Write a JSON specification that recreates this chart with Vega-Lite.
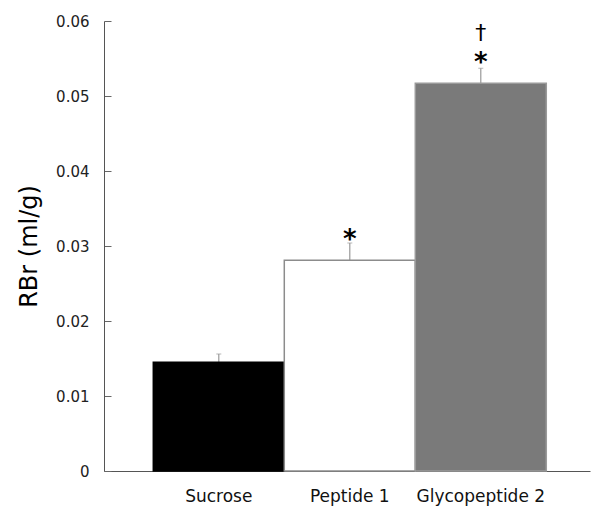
{
  "$schema": "https://vega.github.io/schema/vega-lite/v6.json",
  "autosize": "none",
  "width": 486,
  "height": 450,
  "padding": {"left": 104, "top": 21, "right": 2, "bottom": 39},
  "background": "white",
  "config": {"view": {"stroke": null}},
  "data": {"values": [
    {"group": "Sucrose", "value": 0.0145, "upper": 0.0156, "star": null, "dagger": null},
    {"group": "Peptide 1", "value": 0.0281, "upper": 0.0304, "star": 0.0318, "dagger": null},
    {"group": "Glycopeptide 2", "value": 0.0517, "upper": 0.0537, "star": 0.0553, "dagger": 0.0584}
  ]},
  "encoding": {
    "x": {
      "field": "group", "type": "nominal", "sort": null,
      "scale": {"paddingInner": 0, "paddingOuter": 0.355, "align": 0.53},
      "axis": {
        "title": null, "labelAngle": 0, "ticks": false, "domainColor": "#555", "domainWidth": 1,
        "labelFont": "DejaVu Sans", "labelFontSize": 17, "labelColor": "#111", "labelPadding": 17
      }
    }
  },
  "layer": [
    {
      "mark": {"type": "rule", "color": "#999", "strokeWidth": 1.2},
      "encoding": {
        "y": {"field": "value", "type": "quantitative"},
        "y2": {"field": "upper"}
      }
    },
    {
      "mark": {"type": "tick", "color": "#999", "size": 5, "thickness": 1},
      "encoding": {"y": {"field": "upper", "type": "quantitative"}}
    },
    {
      "mark": {"type": "bar", "strokeWidth": 1.5},
      "encoding": {
        "y": {
          "field": "value", "type": "quantitative",
          "scale": {"domain": [0, 0.06], "nice": false},
          "axis": {
            "title": "RBr (ml/g)", "titleFont": "DejaVu Sans", "titleFontSize": 24, "titleFontWeight": "normal",
            "titleColor": "#000", "titlePadding": 14,
            "values": [0, 0.01, 0.02, 0.03, 0.04, 0.05, 0.06],
            "labelExpr": "datum.value == 0 ? '0' : format(datum.value, '.2f')",
            "labelFont": "DejaVu Sans", "labelFontSize": 15, "labelColor": "#222",
            "tickSize": -7, "tickColor": "#666", "domainColor": "#555", "labelPadding": 22,
            "grid": false
          }
        },
        "fill": {
          "field": "group", "type": "nominal", "sort": null, "legend": null,
          "scale": {"domain": ["Sucrose", "Peptide 1", "Glycopeptide 2"], "range": ["#000000", "#ffffff", "#7a7a7a"]}
        },
        "stroke": {
          "field": "group", "type": "nominal", "sort": null, "legend": null,
          "scale": {"domain": ["Sucrose", "Peptide 1", "Glycopeptide 2"], "range": ["#000000", "#8c8c8c", "#9a9a9a"]}
        }
      }
    },
    {
      "mark": {"type": "text", "text": "*", "font": "DejaVu Sans", "fontWeight": "bold", "fontSize": 26, "baseline": "middle", "dy": 7},
      "encoding": {"y": {"field": "star", "type": "quantitative"}}
    },
    {
      "mark": {"type": "text", "text": "†", "font": "DejaVu Sans", "fontSize": 22, "baseline": "middle"},
      "encoding": {"y": {"field": "dagger", "type": "quantitative"}}
    }
  ]
}
